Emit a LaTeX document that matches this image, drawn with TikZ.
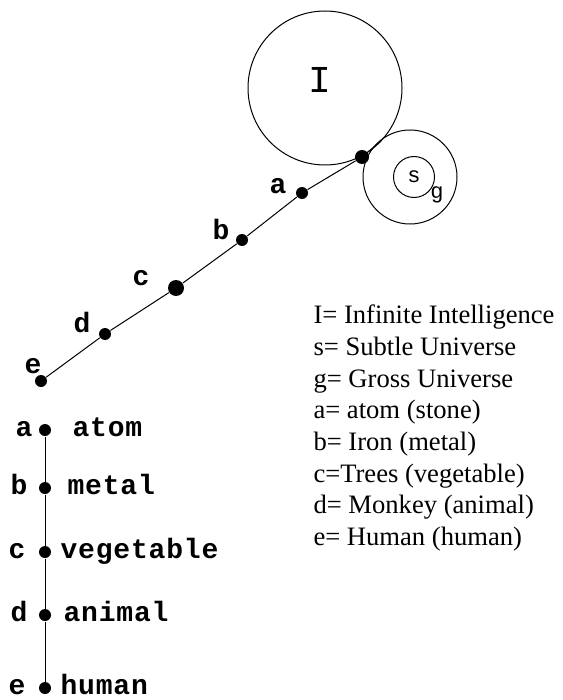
\documentclass[tikz,border=0pt]{standalone}
\usepackage{fontspec}
\setmainfont{Liberation Serif}
\newfontfamily\stagefont[LetterSpace=3]{Liberation Mono}
\newfontfamily\markfont{Liberation Mono}
\usetikzlibrary{calc}
\tikzset{
  stage dot/.style={
    circle,
    fill=black,
    inner sep=0pt,
    minimum size=12pt
  },
  stage label/.style={
    font=\stagefont\bfseries\fontsize{28}{28}\selectfont,
    inner sep=0pt
  },
  legend line/.style={
    font=\fontsize{26.6}{31}\selectfont,
    anchor=base west,
    inner sep=0pt
  },
  world/.style={
    circle,
    draw=black,
    line width=1pt,
    inner sep=0pt
  }
}

\begin{document}
\begin{tikzpicture}[x=1pt, y=-1pt, line width=1pt]
  \useasboundingbox (0,0) rectangle (562,700);

  % Infinite Intelligence, Gross and Subtle Universe
  \node[world, minimum size=154pt] (I) at (325,88) {};
  \node[font=\markfont\fontsize{38}{38}\selectfont, inner sep=0pt] (Itext) at (320,80) {I};
  \node[world, minimum size=94pt] (g) at (410,177) {};
  \node[world, minimum width=38pt, minimum height=41pt] (s) at (414,177)
    {\markfont\fontsize{22}{22}\selectfont s};
  \node[font=\markfont\fontsize{22}{22}\selectfont, inner sep=0pt] (gtext) at (437,195) {g};

  % the slope of evolution
  \coordinate (top) at (381,141);
  \node[stage dot] (de) at (41,381) {};
  \node[stage dot] (dd) at (105,334) {};
  \node[stage dot, minimum size=16pt] (dc) at (176,288) {};
  \node[stage dot, minimum size=14pt] (dt) at (362,157) {};
  \node[stage dot] (db) at (242,240) {};
  \node[stage dot] (da) at (302,193) {};
  \draw (de) -- (dd) -- (dc) -- (db) -- (da) -- (dt) -- (top);
  \foreach \n/\x/\y in {a/278/186, b/221/229, c/141/278, d/82/322, e/33/366}
    \node[stage label] (l\n) at (\x,\y) {\n};

  % the ladder
  \foreach \n/\y/\lx/\wx/\word in {a/430/24/72/atom, b/488/19/67/metal,
      c/552/17/60/vegetable, d/615/19/63/animal, e/688/17/60/human} {
    \node[stage dot] (v\n) at (45,\y) {};
    \node[stage label, anchor=base] (vl\n) at (\lx,\y+6) {\n};
    \node[stage label, anchor=base west] (vw\n) at (\wx,\y+6) {\word};
  }
  \draw (va) -- (vb) -- (vc) -- (vd) -- (ve);

  % legend
  \node[legend line] (k1) at (313,323) {I= Infinite Intelligence};
  \node[legend line] (k2) at (313,355) {s= Subtle Universe};
  \node[legend line] (k3) at (313,387) {g= Gross Universe};
  \node[legend line] (k4) at (313,418) {a= atom (stone)};
  \node[legend line] (k5) at (313,450) {b= Iron (metal)};
  \node[legend line] (k6) at (313,482) {c=Trees (vegetable)};
  \node[legend line] (k7) at (313,513) {d= Monkey (animal)};
  \node[legend line] (k8) at (313,545) {e= Human (human)};
\end{tikzpicture}
\end{document}
